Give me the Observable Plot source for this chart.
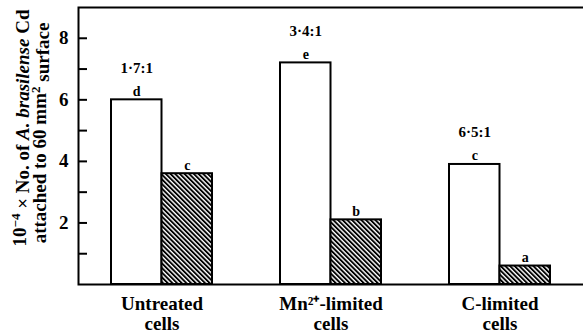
<!DOCTYPE html>
<html>
<head>
<meta charset="utf-8">
<script src="https://cdn.jsdelivr.net/npm/d3@7"></script>
<script src="https://cdn.jsdelivr.net/npm/@observablehq/plot@0.6"></script>
<style>
  html, body { margin: 0; padding: 0; overflow: hidden; background: white; }
  #chart svg { display: block; }
</style>
</head>
<body>
<div id="chart"></div>
<script>
// ---- data ----
const groups = ["Untreated\ncells", "Mn²⁺-limited\ncells", "C-limited\ncells"];
const whiteValues = [6.0, 7.2, 3.9];
const hatchedValues = [3.6, 2.1, 0.6];
const whiteLetters = ["d", "e", "c"];
const hatchedLetters = ["c", "b", "a"];
const ratios = ["1·7:1", "3·4:1", "6·5:1"];
const yTickLabels = [2, 4, 6, 8];
const yAllTicks = [1, 2, 3, 4, 5, 6, 7, 8];
const yMax = 9;

const rows = groups.map((g, i) => ({
  group: g, white: whiteValues[i], hatched: hatchedValues[i],
  wl: whiteLetters[i], hl: hatchedLetters[i], ratio: ratios[i]
}));

// ---- layout ----
const W = 583, H = 336;
const mL = 78, mR = 0, mT = 7, mB = 52;
const pIn = 0.405, pOut = 0.19;
const step = (W - mL - mR) / (groups.length - pIn + 2 * pOut);
const bw = step * (1 - pIn);
const half = bw / 2;
const tickLen = 9;
const font = "Liberation Serif";

const plot = Plot.plot({
  width: W, height: H,
  marginLeft: mL, marginRight: mR, marginTop: mT, marginBottom: mB,
  style: { fontFamily: font, fontWeight: "bold", background: "white", color: "black" },
  x: { domain: groups, paddingInner: pIn, paddingOuter: pOut, label: null },
  y: { domain: [0, yMax], label: null },
  marks: [
    Plot.barY(rows, { x: "group", y: "white", fill: "white", stroke: "black", strokeWidth: 2, insetRight: half }),
    Plot.barY(rows, { x: "group", y: "hatched", fill: "url(#hatch)", stroke: "black", strokeWidth: 2, insetLeft: half }),
    Plot.text(rows, { x: "group", y: "white", text: "wl", dx: -half / 2, dy: -4, lineAnchor: "bottom", fontSize: 14, fontWeight: "bold", fontFamily: font }),
    Plot.text(rows, { x: "group", y: "hatched", text: "hl", dx: half / 2, dy: -4, lineAnchor: "bottom", fontSize: 14, fontWeight: "bold", fontFamily: font }),
    Plot.text(rows, { x: "group", y: "white", text: "ratio", dx: -half / 2, dy: -27, lineAnchor: "bottom", fontSize: 15, fontWeight: "bold", fontFamily: font }),
    Plot.frame({ stroke: "black", strokeWidth: 2, insetRight: -4 }),
    Plot.ruleY(yAllTicks, { stroke: "black", strokeWidth: 2, insetRight: (W - mL - mR) - tickLen }),
    Plot.axisY({ ticks: yTickLabels, tickSize: 0, tickPadding: 10, fontSize: 19, fontWeight: "bold", fontFamily: font }),
    Plot.axisX({ tickSize: 0, tickPadding: 12, fontSize: 19, fontWeight: "bold", lineHeight: 1.03, fontFamily: font })
  ]
});

// hatch pattern
const svg = d3.select(plot);
const defs = svg.insert("defs", ":first-child");
const pat = defs.append("pattern")
  .attr("id", "hatch")
  .attr("patternUnits", "userSpaceOnUse")
  .attr("width", 3.3).attr("height", 10)
  .attr("patternTransform", "rotate(-45)");
pat.append("rect").attr("width", 3.3).attr("height", 10).attr("fill", "white");
pat.append("rect").attr("width", 1.9).attr("height", 10).attr("fill", "black");

// y-axis title (two rotated lines)
const t1 = svg.append("text")
  .attr("transform", "translate(26,128) rotate(-90)")
  .attr("text-anchor", "middle")
  .style("font-family", font).style("font-weight", "bold").style("font-size", "19px");
t1.append("tspan").text("10");
t1.append("tspan").attr("dy", "-0.45em").style("font-size", "13px").text("−4");
t1.append("tspan").attr("dy", "0.45em").text(" × No. of ");
t1.append("tspan").style("font-style", "italic").text("A. brasilense");
t1.append("tspan").text(" Cd");

const t2 = svg.append("text")
  .attr("transform", "translate(46,133) rotate(-90)")
  .attr("text-anchor", "middle")
  .style("font-family", font).style("font-weight", "bold").style("font-size", "19px");
t2.append("tspan").text("attached to 60 mm");
t2.append("tspan").attr("dy", "-0.45em").style("font-size", "13px").text("2");
t2.append("tspan").attr("dy", "0.45em").text(" surface");

document.getElementById("chart").appendChild(plot);
</script>
</body>
</html>
